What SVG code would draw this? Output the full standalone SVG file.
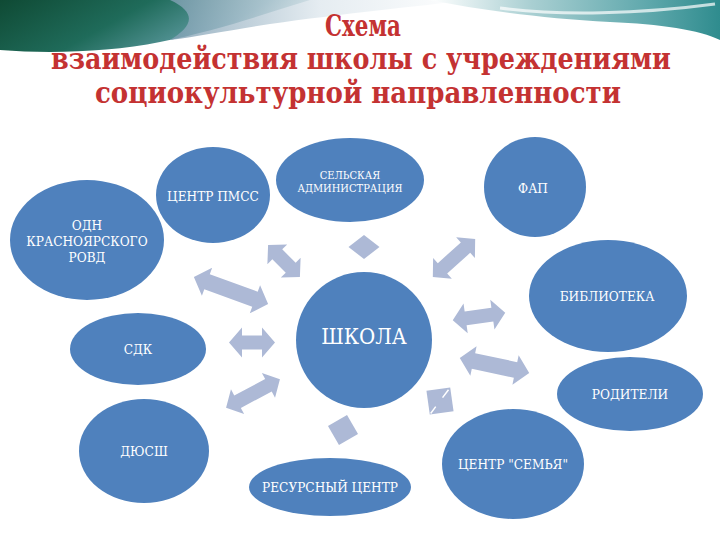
<svg xmlns="http://www.w3.org/2000/svg" width="720" height="540" viewBox="0 0 720 540">
<defs>
<linearGradient id="gL" x1="0" y1="0" x2="1" y2="0.3">
<stop offset="0" stop-color="#0f4a34"/>
<stop offset="0.45" stop-color="#1f6b5a"/>
<stop offset="0.8" stop-color="#5d9aa0"/>
<stop offset="1" stop-color="#c9dde0"/>
</linearGradient>
<linearGradient id="gM" x1="0" y1="0" x2="1" y2="0">
<stop offset="0" stop-color="#7f9fb3"/>
<stop offset="0.5" stop-color="#dfe8ee"/>
<stop offset="1" stop-color="#ffffff"/>
</linearGradient>
<linearGradient id="gR" x1="0" y1="0" x2="1" y2="0">
<stop offset="0" stop-color="#ffffff"/>
<stop offset="0.35" stop-color="#a9cfd2"/>
<stop offset="0.75" stop-color="#5fa8ac"/>
<stop offset="1" stop-color="#2f8c8e"/>
</linearGradient>
<style>
.node{fill:#4f81bd;}
.lbl{fill:#ffffff;font-family:'DejaVu Serif Condensed','DejaVu Serif','Liberation Serif',serif;font-size:13.5px;text-anchor:middle;}
.arr{fill:#adb9d6;}
.ttl{fill:#c43232;font-family:'DejaVu Serif Condensed','DejaVu Serif','Liberation Serif',serif;font-weight:bold;font-size:29px;text-anchor:middle;}
</style>
</defs>
<rect width="720" height="540" fill="#ffffff"/>
<g id="header">
<path d="M0,0 L310,0 C270,12 220,30 160,42 C110,52 50,54 0,50 Z" fill="url(#gL)"/>
<path d="M170,0 L470,0 C420,6 340,14 270,24 C230,30 200,36 170,40 C190,28 200,14 170,0 Z" fill="url(#gM)" opacity="0.8"/>
<path d="M430,0 L720,0 L720,40 C700,30 660,24 610,22 C540,18 480,10 430,0 Z" fill="url(#gR)"/>
<path d="M500,8 C560,16 640,14 715,4" fill="none" stroke="#ffffff" stroke-width="3" opacity="0.7"/>
</g>
<g id="title">
<text class="ttl" x="363" y="36" textLength="76" lengthAdjust="spacingAndGlyphs">Схема</text>
<text class="ttl" x="361" y="69" textLength="620" lengthAdjust="spacingAndGlyphs">взаимодействия школы с учреждениями</text>
<text class="ttl" x="358" y="103" textLength="526" lengthAdjust="spacingAndGlyphs">социокультурной направленности</text>
</g>
<g id="connectors">
<polygon class="arr" points="-39.5,0 -25.5,-15 -25.5,-8 25.5,-8 25.5,-15 39.5,0 25.5,15 25.5,8 -25.5,8 -25.5,15" transform="translate(231,290.5) rotate(20)"/>
<polygon class="arr" points="-22.5,0 -9.5,-14 -9.5,-7 9.5,-7 9.5,-14 22.5,0 9.5,14 9.5,7 -9.5,7 -9.5,14" transform="translate(284,261) rotate(45)"/>
<polygon class="arr" points="-23,0 -10,-15 -10,-7 10,-7 10,-15 23,0 10,15 10,7 -10,7 -10,15" transform="translate(252,342.5)"/>
<polygon class="arr" points="-30.5,0 -17.5,-14 -17.5,-7 17.5,-7 17.5,-14 30.5,0 17.5,14 17.5,7 -17.5,7 -17.5,14" transform="translate(253,393.5) rotate(-28)"/>
<polygon class="arr" points="364,235 379.5,247 364,259 348.5,247"/>
<polygon class="arr" points="-28.5,0 -15.5,-14 -15.5,-7 15.5,-7 15.5,-14 28.5,0 15.5,14 15.5,7 -15.5,7 -15.5,14" transform="translate(454,258) rotate(-42)"/>
<polygon class="arr" points="-26.5,0 -13.5,-15 -13.5,-7 13.5,-7 13.5,-15 26.5,0 13.5,15 13.5,7 -13.5,7 -13.5,15" transform="translate(479,316.5) rotate(-8)"/>
<polygon class="arr" points="-35.5,0 -21.5,-15 -21.5,-8 21.5,-8 21.5,-15 35.5,0 21.5,15 21.5,8 -21.5,8 -21.5,15" transform="translate(494.5,365.5) rotate(12)"/>
<g transform="translate(440,401) rotate(-8)">
<rect class="arr" x="-12" y="-12" width="24" height="24"/>
<path d="M-11,11 L-5,5 M3,-3 L10,-10" stroke="#ffffff" stroke-width="1.5"/>
</g>
<rect class="arr" x="-11" y="-11" width="22" height="22" transform="translate(343,430) rotate(-30)"/>
</g>
<g id="n-odn">
<ellipse class="node" cx="87" cy="240" rx="77" ry="60"/>
<text class="lbl" x="87" y="230">ОДН</text>
<text class="lbl" x="87" y="246">КРАСНОЯРСКОГО</text>
<text class="lbl" x="87" y="262">РОВД</text>
</g>
<g id="n-pmss">
<ellipse class="node" cx="213" cy="195" rx="57" ry="48"/>
<text class="lbl" x="213" y="201">ЦЕНТР ПМСС</text>
</g>
<g id="n-admin">
<ellipse class="node" cx="350" cy="180" rx="74" ry="42"/>
<text class="lbl" x="350" y="179" style="font-size:11px">СЕЛЬСКАЯ</text>
<text class="lbl" x="350" y="192" style="font-size:11px">АДМИНИСТРАЦИЯ</text>
</g>
<g id="n-fap">
<ellipse class="node" cx="535" cy="187" rx="51" ry="50"/>
<text class="lbl" x="533" y="193">ФАП</text>
</g>
<g id="n-bib">
<ellipse class="node" cx="608" cy="296" rx="79" ry="56"/>
<text class="lbl" x="607" y="301">БИБЛИОТЕКА</text>
</g>
<g id="n-school">
<circle class="node" cx="364" cy="340" r="68"/>
<text class="lbl" x="364" y="344" style="font-size:22px">ШКОЛА</text>
</g>
<g id="n-sdk">
<ellipse class="node" cx="138" cy="349" rx="68" ry="36"/>
<text class="lbl" x="138" y="354">СДК</text>
</g>
<g id="n-parents">
<ellipse class="node" cx="630" cy="394" rx="73" ry="37"/>
<text class="lbl" x="630" y="399">РОДИТЕЛИ</text>
</g>
<g id="n-dyussh">
<ellipse class="node" cx="144" cy="451" rx="65" ry="52"/>
<text class="lbl" x="144" y="456">ДЮСШ</text>
</g>
<g id="n-semya">
<ellipse class="node" cx="513" cy="464" rx="71" ry="55"/>
<text class="lbl" x="513" y="469">ЦЕНТР "СЕМЬЯ"</text>
</g>
<g id="n-resurs">
<ellipse class="node" cx="330" cy="487" rx="81" ry="29"/>
<text class="lbl" x="330" y="492">РЕСУРСНЫЙ ЦЕНТР</text>
</g>
</svg>
